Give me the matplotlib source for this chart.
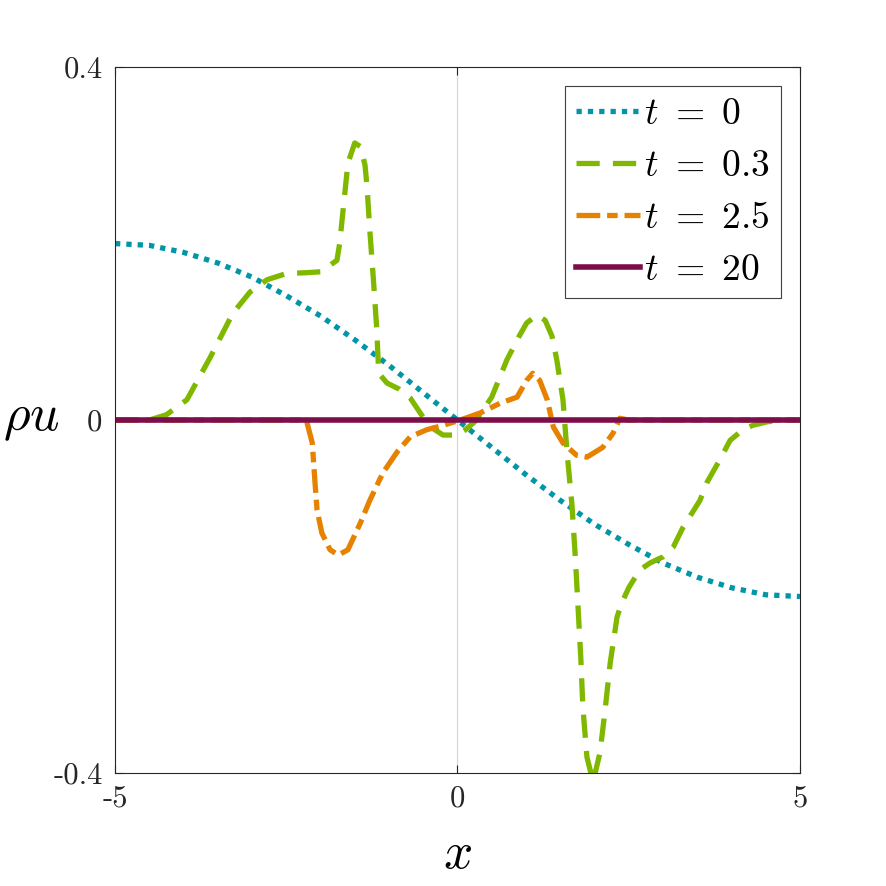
import numpy as np
import matplotlib
matplotlib.use('Agg')
import matplotlib.pyplot as plt

plt.rcParams['font.family'] = 'serif'
plt.rcParams['font.serif'] = ['cmr10']
plt.rcParams['mathtext.fontset'] = 'cm'
plt.rcParams['axes.unicode_minus'] = False

# t = 0
x0 = [-5, -4.5, -4, -3.5, -3, -2.5, -2, -1.5, -1, -0.5, 0,
      0.5, 1, 1.5, 2, 2.5, 3, 3.5, 4, 4.5, 5]
y0 = [0.200, 0.198, 0.190, 0.178, 0.162, 0.141, 0.118, 0.091, 0.062, 0.031, 0.0,
      -0.031, -0.062, -0.091, -0.118, -0.141, -0.162, -0.178, -0.190, -0.198, -0.200]

# t = 0.3
x03 = [-5, -4.5, -4.25, -3.95, -3.61, -3.28, -3.03, -2.78, -2.5, -2.2, -2.0, -1.76,
       -1.72, -1.67, -1.6, -1.5, -1.42, -1.35, -1.32, -1.28, -1.23, -1.18, -1.15,
       -1.03, -0.85, -0.69, -0.5, -0.35, -0.21, 0.0, 0.1, 0.25, 0.37, 0.5, 0.72,
       0.9, 1.01, 1.16, 1.28, 1.38, 1.45, 1.54, 1.6, 1.67, 1.72, 1.76, 1.8, 1.83,
       1.89, 1.98, 2.08, 2.15, 2.23, 2.33, 2.4, 2.5, 2.66, 2.81, 3.0, 3.15, 3.29,
       3.54, 3.64, 3.83, 3.98, 4.15, 4.31, 4.52, 4.75, 5]
y03 = [0, 0, 0.006, 0.023, 0.071, 0.121, 0.145, 0.159, 0.166, 0.167, 0.168, 0.181,
       0.2, 0.238, 0.291, 0.314, 0.31, 0.289, 0.264, 0.215, 0.162, 0.105, 0.053,
       0.042, 0.035, 0.025, 0.003, -0.01, -0.017, -0.017, -0.012, -0.002, 0.011,
       0.026, 0.068, 0.095, 0.11, 0.119, 0.113, 0.095, 0.068, 0.023, -0.037,
       -0.095, -0.155, -0.212, -0.269, -0.325, -0.382, -0.41, -0.377, -0.332,
       -0.275, -0.223, -0.207, -0.19, -0.17, -0.162, -0.155, -0.144, -0.122,
       -0.091, -0.071, -0.045, -0.023, -0.012, -0.006, -0.002, 0, 0]

# t = 2.5
x25 = [-5, -2.3, -2.2, -2.12, -2.08, -2.05, -1.98, -1.86, -1.74, -1.6, -1.42, -1.28,
       -1.09, -0.88, -0.69, -0.45, -0.21, 0.04, 0.33, 0.62, 0.87, 1.01, 1.1, 1.2,
       1.31, 1.4, 1.54, 1.74, 1.89, 2.12, 2.27, 2.37, 2.5, 5]
y25 = [0, 0, -0.002, -0.026, -0.071, -0.102, -0.128, -0.147, -0.153, -0.147, -0.117,
       -0.091, -0.06, -0.036, -0.019, -0.011, -0.006, 0.0, 0.008, 0.019, 0.026,
       0.045, 0.053, 0.045, 0.023, -0.008, -0.026, -0.04, -0.042, -0.031, -0.015,
       0.002, 0, 0]

# t = 20
x20 = [-5, -2.5, 0, 2.5, 5]
y20 = [0, 0, 0, 0, 0]

labels = [r'$t\ =\ 0$', r'$t\ =\ 0.3$', r'$t\ =\ 2.5$', r'$t\ =\ 20$']
colors = ['#0096A8', '#80B800', '#E68200', '#7D0E4B']

fig = plt.figure(figsize=(8.86, 8.86), dpi=100)
ax = fig.add_axes([0.1298, 0.1275, 0.7731, 0.7968])

ax.axvline(0, color='#D8D8D8', lw=0.9, zorder=0)
ax.axhline(0, color='#D8D8D8', lw=0.9, zorder=0)

ax.plot(x0, y0, color=colors[0], lw=3.8, ls=(0, (1, 1.15)), label=labels[0])
ax.plot(x03, y03, color=colors[1], lw=3.8, ls=(0, (4.4, 2.5)), label=labels[1])
ax.plot(x25, y25, color=colors[2], lw=3.8, ls=(0, (4.5, 1.3, 2, 1.3)), label=labels[2])
ax.plot(x20, y20, color=colors[3], lw=4.0, ls='-', label=labels[3])

ax.set_xlim(-5, 5)
ax.set_ylim(-0.4, 0.4)
ax.set_xticks([-5, 0, 5])
ax.set_xticklabels(['-5', '0', '5'])
ax.set_yticks([-0.4, 0, 0.4])
ax.set_yticklabels(['-0.4', '0', '0.4'])
ax.tick_params(direction='in', top=True, right=True, length=6, width=0.8,
               labelsize=22, colors='#262626', pad=9)
for s in ax.spines.values():
    s.set_color('#262626')
    s.set_linewidth(0.8)

ax.set_xlabel(r'$x$', fontsize=37)
ax.xaxis.set_label_coords(0.5, -0.116)
ax.xaxis.label.set_va('center')
ax.set_ylabel(r'$\rho u$', fontsize=37, rotation=0, ha='right', va='center')
ax.yaxis.set_label_coords(-0.08, 0.5)

leg = ax.legend(loc='upper right', bbox_to_anchor=(0.972, 0.973), borderaxespad=0,
                fontsize=27, handlelength=1.7, handletextpad=0.1, labelspacing=0.5,
                fancybox=False, framealpha=1, edgecolor='#404040', borderpad=0.3)
leg.get_frame().set_linewidth(0.8)

fig.savefig('out.png', dpi=100)
